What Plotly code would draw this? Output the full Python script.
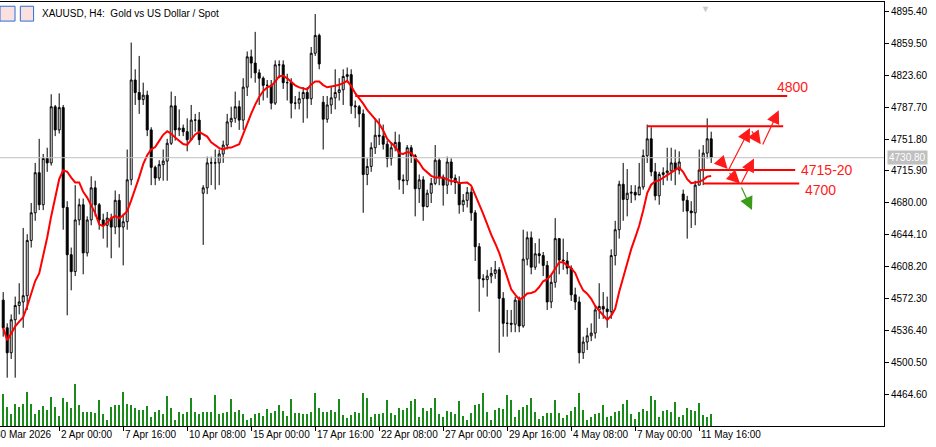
import pandas as pd
import plotly.graph_objects as go

# H4 closes / highs / lows, one per bar
closes = [4540, 4512, 4549, 4565, 4569, 4576, 4638, 4669, 4714, 4678, 4730, 4725, 4788, 4762, 4787, 4675, 4622, 4603, 4661, 4678,
          4624, 4661, 4697, 4678, 4661, 4655, 4663, 4653, 4683, 4653, 4659, 4706, 4818, 4804, 4796, 4801, 4762, 4720, 4708, 4723,
          4727, 4747, 4789, 4762, 4764, 4760, 4751, 4773, 4773, 4751, 4697, 4725, 4725, 4725, 4735, 4745, 4771, 4775, 4788, 4773,
          4810, 4844, 4837, 4826, 4820, 4812, 4812, 4792, 4835, 4835, 4815, 4815, 4792, 4792, 4797, 4804, 4797, 4848, 4868, 4836,
          4774, 4790, 4798, 4804, 4807, 4822, 4824, 4789, 4788, 4780, 4712, 4721, 4742, 4756, 4755, 4746, 4730, 4742, 4748, 4706,
          4705, 4742, 4733, 4696, 4706, 4676, 4691, 4702, 4728, 4709, 4700, 4726, 4708, 4703, 4678, 4683, 4692, 4669, 4631, 4595,
          4594, 4598, 4601, 4605, 4573, 4545, 4545, 4544, 4571, 4542, 4617, 4641, 4608, 4623, 4621, 4610, 4569, 4591, 4640, 4616,
          4615, 4607, 4577, 4569, 4512, 4524, 4531, 4534, 4560, 4564, 4561, 4558, 4621, 4650, 4701, 4684, 4691, 4692, 4689, 4698,
          4733, 4752, 4715, 4688, 4712, 4714, 4716, 4725, 4717, 4726, 4683, 4671, 4669, 4700, 4717, 4736, 4752, 4731]
highs = [4580, 4545, 4555, 4575, 4590, 4652, 4645, 4680, 4725, 4752, 4735, 4742, 4802, 4790, 4803, 4790, 4682, 4630, 4700, 4685,
         4685, 4665, 4710, 4705, 4680, 4668, 4670, 4668, 4694, 4690, 4668, 4740, 4860, 4830, 4845, 4815, 4806, 4765, 4722, 4728,
         4740, 4752, 4805, 4800, 4785, 4768, 4775, 4790, 4780, 4782, 4700, 4732, 4732, 4740, 4740, 4750, 4780, 4788, 4805, 4795,
         4820, 4850, 4852, 4872, 4830, 4822, 4818, 4818, 4840, 4840, 4840, 4825, 4820, 4800, 4805, 4810, 4810, 4855, 4892, 4870,
         4800, 4800, 4810, 4830, 4820, 4830, 4832, 4830, 4795, 4790, 4785, 4730, 4748, 4775, 4775, 4768, 4750, 4748, 4760, 4757,
         4712, 4745, 4745, 4735, 4712, 4710, 4695, 4708, 4745, 4730, 4712, 4732, 4730, 4712, 4710, 4690, 4698, 4697, 4672, 4635,
         4600, 4605, 4608, 4615, 4608, 4580, 4560, 4560, 4575, 4575, 4650, 4648, 4648, 4635, 4640, 4625, 4615, 4600, 4663, 4640,
         4640, 4625, 4610, 4585, 4575, 4530, 4540, 4545, 4565, 4590, 4580, 4575, 4628, 4660, 4705, 4725, 4718, 4700, 4700, 4725,
         4740, 4768, 4765, 4725, 4715, 4720, 4742, 4742, 4740, 4738, 4695, 4688, 4682, 4705, 4740, 4745, 4775, 4760]
lows = [4530, 4484, 4505, 4484, 4555, 4540, 4560, 4630, 4660, 4672, 4672, 4715, 4722, 4755, 4758, 4650, 4554, 4582, 4598, 4655,
        4600, 4620, 4655, 4665, 4650, 4640, 4630, 4618, 4645, 4630, 4610, 4650, 4700, 4790, 4780, 4790, 4755, 4700, 4700, 4705,
        4705, 4705, 4745, 4750, 4755, 4755, 4738, 4750, 4760, 4745, 4633, 4690, 4700, 4695, 4700, 4725, 4740, 4765, 4770, 4762,
        4762, 4800, 4820, 4815, 4790, 4795, 4798, 4785, 4790, 4820, 4808, 4795, 4775, 4785, 4785, 4770, 4775, 4790, 4845, 4830,
        4740, 4770, 4780, 4785, 4795, 4790, 4815, 4780, 4775, 4765, 4669, 4700, 4715, 4735, 4745, 4740, 4720, 4722, 4738, 4695,
        4690, 4700, 4725, 4665, 4680, 4660, 4675, 4680, 4700, 4700, 4677, 4690, 4700, 4690, 4668, 4670, 4675, 4660, 4615, 4558,
        4585, 4575, 4590, 4595, 4512, 4530, 4530, 4535, 4535, 4535, 4540, 4610, 4600, 4605, 4612, 4598, 4560, 4562, 4585, 4600,
        4605, 4600, 4570, 4560, 4500, 4505, 4515, 4525, 4528, 4550, 4550, 4540, 4550, 4610, 4640, 4660, 4665, 4680, 4683, 4690,
        4695, 4725, 4710, 4683, 4678, 4700, 4705, 4705, 4700, 4712, 4670, 4640, 4652, 4655, 4700, 4700, 4730, 4725]
first_open = 4571
gap_opens = {50: 4691, 80: 4793, 170: 4690}

volumes = [95, 57, 35, 67, 57, 65, 101, 67, 35, 49, 59, 49, 87, 57, 29, 83, 71, 53, 125, 63, 41, 43, 41, 39, 79, 37, 17, 57, 63, 63,
           101, 67, 63, 53, 49, 49, 59, 27, 43, 49, 37, 91, 53, 17, 41, 35, 41, 85, 43, 37, 43, 41, 41, 93, 37, 39, 41, 81, 41, 47,
           35, 17, 23, 35, 38, 30, 50, 40, 46, 62, 45, 30, 80, 40, 40,
           35, 35, 42, 98, 53, 41, 41, 47, 41, 80, 32, 24, 32, 43, 38, 98, 83, 26, 35, 35, 38, 77, 38, 32, 53, 47, 53, 74, 80, 26,
           53, 44, 53, 83, 35, 26, 44, 41, 35, 74, 29, 17, 38, 62, 65, 98, 41, 17, 47, 53, 50, 92, 77, 26, 47, 56, 62, 83, 41, 20,
           29, 38, 38, 77, 38, 23, 32, 44, 56, 98, 47, 17, 26, 35, 38,
           62, 28, 30, 42, 44, 66, 78, 36, 20, 42, 50, 45, 90, 78, 28, 45, 48, 42, 72, 28, 32, 55, 47, 44, 70, 34, 28, 36]

tick_idx = [-2, 14, 30, 46, 62, 78, 94, 110, 126, 142, 158, 174]
tick_labels = ["30 Mar 2026", "2 Apr 00:00", "7 Apr 16:00", "10 Apr 08:00", "15 Apr 00:00", "17 Apr 16:00",
               "22 Apr 08:00", "27 Apr 00:00", "29 Apr 16:00", "4 May 08:00", "7 May 00:00", "11 May 16:00"]
price_ticks = [4895.40, 4859.50, 4823.60, 4787.70, 4751.80, 4715.90, 4680.00, 4644.10, 4608.20, 4572.30, 4536.40, 4500.50, 4464.60]
last_price = 4730.80

# levels: (price, start bar, end bar, label)
levels = [(4800, 88, 196, "4800"), (4766, 161, 195, None), (4717, 174, 198, "4715-20"), (4702, 175, 199, "4700")]
# arrows: (tail bar, tail price, head bar, head price, colour)
arrows = [(178.7, 4730, 181.1, 4718, "#ff1a1a"), (181.2, 4716, 186.7, 4764, "#ff1a1a"),
          (186.9, 4762, 189.4, 4746, "#ff1a1a"), (189.7, 4744, 193.9, 4784, "#ff1a1a"),
          (181.2, 4715, 184.2, 4702, "#ff1a1a"), (184.4, 4701, 187.7, 4730, "#ff1a1a"),
          (184.4, 4699, 187.2, 4672, "#3a9a1a")]

FONT = "Liberation Sans"
XR = [-0.8, 220.2]

df = pd.DataFrame({"close": closes, "high": highs, "low": lows, "vol": volumes})
df["open"] = df["close"].shift(1).fillna(first_open)
for k, v in gap_opens.items():
    df.loc[k, "open"] = v
df["ma"] = df["close"].rolling(10, min_periods=1).mean()
x = list(range(len(df)))

fig = go.Figure()
fig.add_trace(go.Bar(x=x, y=df["vol"], yaxis="y2", marker_color="#1a8a1a", width=0.22,
                     marker_line_width=0, showlegend=False))
fig.add_trace(go.Candlestick(x=x, open=df["open"], high=df["high"], low=df["low"], close=df["close"],
                             increasing=dict(line=dict(color="black", width=1), fillcolor="white"),
                             decreasing=dict(line=dict(color="black", width=1), fillcolor="black"),
                             whiskerwidth=0, showlegend=False))
fig.add_trace(go.Scatter(x=x, y=df["ma"], mode="lines", line=dict(color="#ff0000", width=2), showlegend=False))

fig.add_hline(y=last_price, line=dict(color="#c0c0c0", width=1))
for p, a, b, lab in levels:
    fig.add_shape(type="line", x0=a, x1=b, y0=p, y1=p, line=dict(color="#ff0000", width=2))
for p, a, b, lab in levels:
    if lab:
        fig.add_annotation(x=b + 1, y=p, text=lab, showarrow=False, xanchor="left",
                           yshift=9 if lab == "4800" else (-7 if lab == "4700" else 0),
                           xshift=-16 if lab == "4800" else 0,
                           font=dict(color="#ff1a1a", size=14, family="Liberation Sans"))
for tx, tp, hx, hp, col in arrows:
    fig.add_annotation(x=hx, y=hp, ax=tx, ay=tp, axref="x", ayref="y", xref="x", yref="y", text="",
                       showarrow=True, arrowhead=2, arrowsize=2.2, arrowwidth=1.2, arrowcolor=col)

# date labels sit to the right of their tick, as in the terminal
for i, lab in zip(tick_idx, tick_labels):
    fig.add_annotation(x=(i - XR[0]) / (XR[1] - XR[0]), y=0, xref="paper", yref="paper", text=lab,
                       showarrow=False, xanchor="left", yanchor="top", xshift=-2 if i < 0 else 0, yshift=-1,
                       font=dict(size=10, family=FONT, color="black"))

fig.add_annotation(x=1.0, y=last_price, xref="paper", yref="y", text="4730.80", showarrow=False,
                   xanchor="left", xshift=3, bgcolor="#c0c0c0", font=dict(color="white", size=10, family=FONT),
                   borderpad=1)
fig.add_annotation(x=0, y=1, xref="paper", yref="paper", text="XAUUSD, H4:  Gold vs US Dollar / Spot",
                   showarrow=False, xanchor="left", yanchor="top", xshift=40, yshift=-4,
                   font=dict(color="black", size=10, family=FONT))
fig.add_annotation(x=0.805, y=1, xref="paper", yref="paper", text="▼", showarrow=False, yanchor="top",
                   yshift=2, font=dict(color="#c8c8c8", size=9))
fig.add_shape(type="rect", xref="paper", yref="paper", x0=0.0, x1=0.017, y0=0.955, y1=0.99,
              line=dict(color="#2a6fd6", width=1), fillcolor="#fbe0e0")
fig.add_shape(type="rect", xref="paper", yref="paper", x0=0.023, x1=0.038, y0=0.955, y1=0.99,
              line=dict(color="#2a6fd6", width=1), fillcolor="#fbe0e0")

fig.update_layout(
    width=936, height=447, margin=dict(l=0, r=52, t=2, b=21, autoexpand=False),
    plot_bgcolor="white", paper_bgcolor="white", bargap=0,
    xaxis=dict(range=XR, tickvals=tick_idx, showticklabels=False, ticks="outside", ticklen=4,
               tickcolor="black", showline=True, linecolor="black", mirror=True, showgrid=False, zeroline=False,
               rangeslider=dict(visible=False), automargin=False),
    yaxis=dict(range=[4429.8, 4905.5], side="right", tickvals=price_ticks, ticktext=[f"{v:.2f}" for v in price_ticks],
               ticks="outside", ticklen=4, tickcolor="black", showline=True, linecolor="black", mirror=True,
               showgrid=False, zeroline=False, automargin=False,
               tickfont=dict(size=10, family=FONT, color="black")),
    yaxis2=dict(range=[0, 1272], overlaying="y", visible=False),
)
# the page gets the browser's default 8px body margin otherwise
fig.write_html("out.html", config={"displayModeBar": False},
               post_script="document.body.style.margin='0';")
